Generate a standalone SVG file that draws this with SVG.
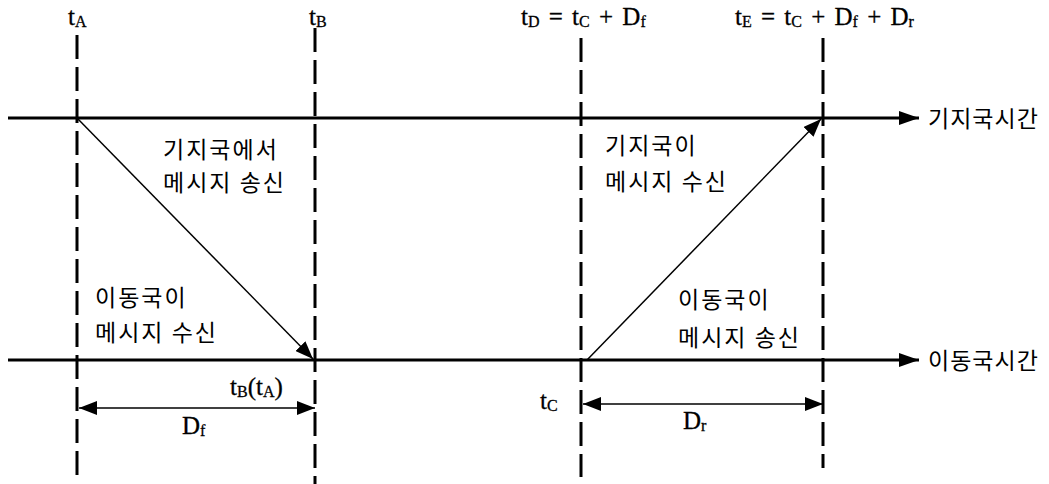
<svg xmlns="http://www.w3.org/2000/svg" width="1049" height="484" viewBox="0 0 1049 484">
<style>
.bg{fill:#ffffff}
.dash{stroke:#000;stroke-width:3;stroke-dasharray:24 8;fill:none}
.axis{stroke:#000;stroke-width:3;fill:none}
.msg{stroke:#000;stroke-width:1.5;fill:none}
.dim{stroke:#000;stroke-width:1.5;fill:none}
.math{font-family:"Liberation Serif","Times New Roman",serif;font-size:25px;word-spacing:3px;fill:#000;stroke:#000;stroke-width:0.3}
.sub{font-size:16px}
.ko{font-family:"Noto Sans CJK KR","Noto Sans",sans-serif;font-size:23px;letter-spacing:2px;fill:#000}
.ax{letter-spacing:1px}
</style>
<defs>
<marker id="ah" viewBox="0 0 20 14" refX="20" refY="7" markerWidth="20" markerHeight="14" markerUnits="userSpaceOnUse" orient="auto">
<path d="M0,0 L20,7 L0,14 Z" fill="#000"/>
</marker>
<marker id="ahs" viewBox="0 0 18 14" refX="18" refY="7" markerWidth="18" markerHeight="14" markerUnits="userSpaceOnUse" orient="auto-start-reverse">
<path d="M0,0 L18,7 L0,14 Z" fill="#000"/>
</marker>
</defs>
<rect class="bg" x="0" y="0" width="1049" height="484"/>

<g id="time-markers">
<line class="dash" x1="77" y1="35" x2="77" y2="480"/>
<line class="dash" x1="315" y1="28" x2="315" y2="484"/>
<line class="dash" x1="581" y1="38" x2="581" y2="477"/>
<line class="dash" x1="823" y1="38" x2="823" y2="468"/>
</g>

<g id="axes">
<line class="axis" x1="8" y1="118" x2="919" y2="118" marker-end="url(#ah)"/>
<line class="axis" x1="8" y1="360" x2="919" y2="360" marker-end="url(#ah)"/>
</g>

<g id="connectors">
<line class="msg" x1="77" y1="118" x2="313" y2="359" marker-end="url(#ahs)"/>
<line class="msg" x1="587" y1="360" x2="821" y2="119" marker-end="url(#ahs)"/>
<line class="dim" x1="79" y1="408" x2="315" y2="408" marker-start="url(#ahs)" marker-end="url(#ahs)"/>
<line class="dim" x1="583" y1="404" x2="823" y2="404" marker-start="url(#ahs)" marker-end="url(#ahs)"/>
</g>

<g id="label-tA"><text class="math" x="68" y="25">t<tspan class="sub" dy="2">A</tspan></text></g>
<g id="label-tB"><text class="math" x="309" y="25">t<tspan class="sub" dy="2">B</tspan></text></g>
<g id="label-tD"><text class="math" x="521" y="25">t<tspan class="sub" dy="2">D</tspan><tspan dy="-2"> = t</tspan><tspan class="sub" dy="2">C</tspan><tspan dy="-2"> + D</tspan><tspan class="sub" dy="2">f</tspan></text></g>
<g id="label-tE"><text class="math" x="735" y="25">t<tspan class="sub" dy="2">E</tspan><tspan dy="-2"> = t</tspan><tspan class="sub" dy="2">C</tspan><tspan dy="-2"> + D</tspan><tspan class="sub" dy="2">f</tspan><tspan dy="-2"> + D</tspan><tspan class="sub" dy="2">r</tspan></text></g>

<g id="label-base-time"><text class="ko ax" x="928" y="127">기지국시간</text></g>
<g id="label-mobile-time"><text class="ko ax" x="928" y="369">이동국시간</text></g>

<g id="label-base-send">
<text class="ko" x="163" y="158">기지국에서</text>
<text class="ko" x="163" y="191">메시지 송신</text>
</g>
<g id="label-mobile-recv">
<text class="ko" x="95" y="306">이동국이</text>
<text class="ko" x="95" y="341">메시지 수신</text>
</g>
<g id="label-base-recv">
<text class="ko" x="605" y="154">기지국이</text>
<text class="ko" x="605" y="190">메시지 수신</text>
</g>
<g id="label-mobile-send">
<text class="ko" x="678" y="308">이동국이</text>
<text class="ko" x="678" y="346">메시지 송신</text>
</g>

<g id="label-tBtA"><text class="math" x="230" y="395">t<tspan class="sub" dy="2">B</tspan><tspan dy="-2">(t</tspan><tspan class="sub" dy="2">A</tspan><tspan dy="-2">)</tspan></text></g>
<g id="label-Df"><text class="math" x="182" y="434">D<tspan class="sub" dy="2">f</tspan></text></g>
<g id="label-tC"><text class="math" x="540" y="409">t<tspan class="sub" dy="2">C</tspan></text></g>
<g id="label-Dr"><text class="math" x="683" y="429">D<tspan class="sub" dy="2">r</tspan></text></g>
</svg>
